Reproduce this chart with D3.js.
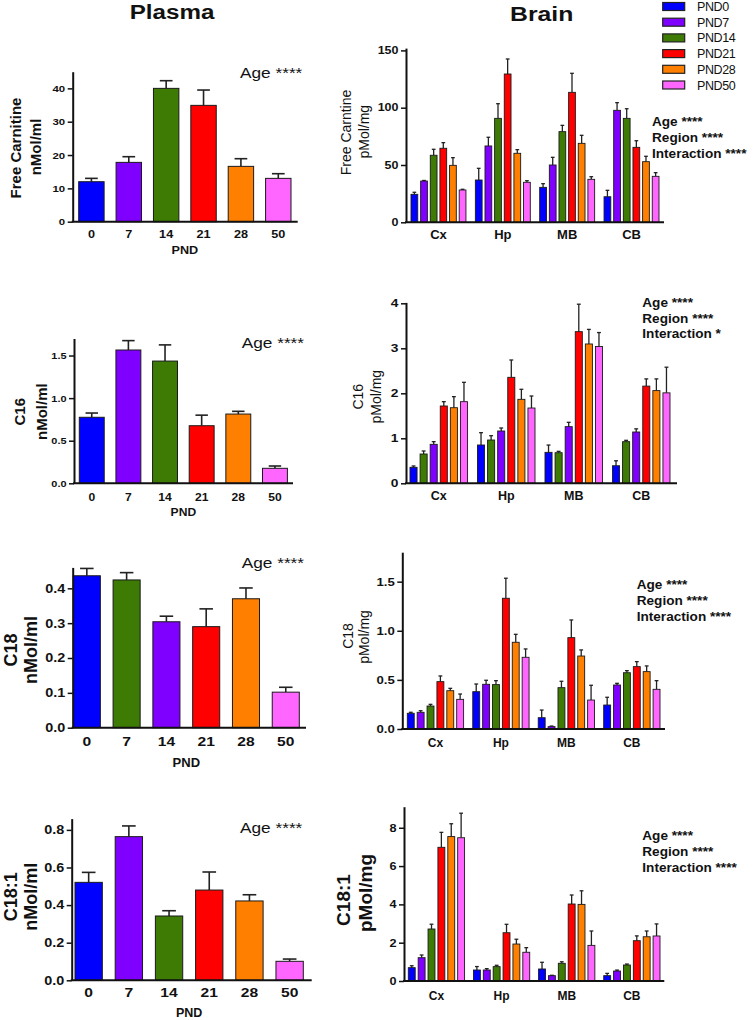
<!DOCTYPE html>
<html><head><meta charset="utf-8">
<script src="https://cdn.jsdelivr.net/npm/d3@7"></script>
<style>html,body{margin:0;padding:0;background:#fff;} svg{display:block;}</style>
</head><body>
<script>
// ---------------- DATA ----------------
const plasmaAges = ["0", "7", "14", "21", "28", "50"];
const regions = ["Cx", "Hp", "MB", "CB"];
const legendLabels = ["PND0", "PND7", "PND14", "PND21", "PND28", "PND50"];

// Plasma (nMol/ml), bar order as drawn
const plasmaFreeCarnitine = [12.0, 17.8, 40.0, 34.9, 16.6, 13.0];
const plasmaFreeCarnitineSem = [1.0, 1.7, 2.3, 4.6, 2.3, 1.4];
const plasmaC16 = [0.775, 1.565, 1.435, 0.676, 0.813, 0.176];
const plasmaC16Sem = [0.05, 0.11, 0.19, 0.124, 0.032, 0.027];
const plasmaC18 = [0.436, 0.424, 0.304, 0.29, 0.37, 0.102];
const plasmaC18Sem = [0.021, 0.021, 0.016, 0.051, 0.031, 0.014];
const plasmaC181 = [0.521, 0.764, 0.342, 0.48, 0.422, 0.101];
const plasmaC181Sem = [0.053, 0.057, 0.028, 0.096, 0.033, 0.012];

// Brain (pMol/mg), rows = regions, columns = bars as drawn
const brainFreeCarnitine = [
  [24.4, 36.0, 58.5, 64.6, 49.7, 28.2],
  [36.9, 66.6, 90.7, 129.4, 60.2, 34.9],
  [30.5, 50.0, 79.1, 113.4, 68.9, 37.5],
  [22.3, 97.7, 90.7, 65.4, 52.9, 40.1]];
const brainFreeCarnitineSem = [
  [1.8, 0.5, 5.2, 4.9, 6.7, 0.6],
  [10.2, 7.6, 12.8, 13.1, 3.2, 1.4],
  [3.2, 6.7, 5.5, 16.6, 7.0, 2.3],
  [5.6, 6.7, 8.4, 5.8, 4.7, 3.2]];
const brainC16 = [
  [0.355, 0.651, 0.866, 1.718, 1.68, 1.814],
  [0.851, 0.962, 1.162, 2.355, 1.866, 1.673],
  [0.688, 0.68, 1.259, 3.37, 3.096, 3.04],
  [0.39, 0.925, 1.14, 2.16, 2.06, 2.01]];
const brainC16Sem = [
  [0.03, 0.067, 0.059, 0.096, 0.245, 0.43],
  [0.274, 0.096, 0.067, 0.385, 0.223, 0.267],
  [0.162, 0.03, 0.096, 0.61, 0.324, 0.31],
  [0.11, 0.03, 0.07, 0.16, 0.26, 0.57]];
const brainC18 = [
  [0.16, 0.17, 0.234, 0.482, 0.39, 0.302],
  [0.38, 0.455, 0.452, 1.331, 0.883, 0.73],
  [0.115, 0.024, 0.421, 0.93, 0.743, 0.295],
  [0.244, 0.448, 0.573, 0.635, 0.584, 0.404]];
const brainC18Sem = [
  [0.01, 0.016, 0.017, 0.058, 0.024, 0.054],
  [0.078, 0.041, 0.04, 0.204, 0.081, 0.085],
  [0.078, 0.006, 0.065, 0.18, 0.062, 0.15],
  [0.079, 0.017, 0.021, 0.051, 0.058, 0.088]];
const brainC181 = [
  [0.696, 1.217, 2.715, 6.98, 7.54, 7.48],
  [0.574, 0.574, 0.75, 2.52, 1.93, 1.5],
  [0.627, 0.278, 0.924, 4.02, 4.0, 1.86],
  [0.278, 0.52, 0.835, 2.105, 2.31, 2.35]];
const brainC181Sem = [
  [0.1, 0.14, 0.25, 0.78, 0.67, 1.28],
  [0.18, 0.07, 0.07, 0.44, 0.25, 0.24],
  [0.35, 0.02, 0.08, 0.47, 0.71, 0.75],
  [0.12, 0.05, 0.05, 0.25, 0.3, 0.63]];

// ---------------- STYLE / LAYOUT ----------------
const palette = ["#0000ff", "#8000ff", "#3d7b05", "#ff0000", "#ff8000", "#ff66ff"];
const FONT = "'Liberation Sans', Arial, Helvetica, sans-serif";
const INK = "#111";

const plasmaPanels = [
  {vals: plasmaFreeCarnitine, sem: plasmaFreeCarnitineSem, colors: [0,1,2,3,4,5],
   ax: 72.7, xEnd: 297.7, y0: 221.7, max: 45, top: 71.7, ticks: [0,10,20,30,40], fmt: "d",
   bars: [78.7, 291], yt: {size: 9.5, sx: 1.2}, xt: {size: 11, sx: 1.15, base: 238.3},
   pnd: {y: 254, size: 11, sx: 1.15}, ylab: [["Free Carnitine", 20.5, 148], ["nMol/ml", 41, 147]], ylabSize: 15,
   age: [240, 77.5]},
  {vals: plasmaC16, sem: plasmaC16Sem, colors: [0,1,2,3,4,5],
   ax: 74, xEnd: 293, y0: 483.3, max: 1.7, top: 338.5, ticks: [0,0.5,1,1.5], fmt: ".1f",
   bars: [79.3, 287.4], yt: {size: 9.5, sx: 1.15}, xt: {size: 11, sx: 1.1, base: 500.7},
   pnd: {y: 516, size: 11, sx: 1.1}, ylab: [["C16", 25, 411.7], ["nMol/ml", 46.7, 411.7]], ylabSize: 15,
   age: [241.7, 348]},
  {vals: plasmaC18, sem: plasmaC18Sem, colors: [0,2,1,3,4,5],
   ax: 72.7, xEnd: 306, y0: 727.7, max: 0.46, top: 567.4, ticks: [0,0.1,0.2,0.3,0.4], fmt: ".1f",
   bars: [73.3, 299.3], yt: {size: 12, sx: 1.2}, xt: {size: 13, sx: 1.2, base: 746},
   pnd: {y: 766.5, size: 13, sx: 1.0}, ylab: [["C18", 17, 650], ["nMol/ml", 37, 650]], ylabSize: 18,
   age: [241.7, 568]},
  {vals: plasmaC181, sem: plasmaC181Sem, colors: [0,1,2,3,4,5],
   ax: 71.7, xEnd: 311.7, y0: 980.3, max: 0.86, top: 818.6, ticks: [0,0.2,0.4,0.6,0.8], fmt: ".1f",
   bars: [75, 303.3], yt: {size: 12, sx: 1.2}, xt: {size: 12.5, sx: 1.25, base: 997.3},
   pnd: {y: 1016.5, size: 12.5, sx: 1.0}, ylab: [["C18:1", 17, 896.7], ["nMol/ml", 37, 896.7]], ylabSize: 18,
   age: [240, 833]}
];

const brainPanels = [
  {vals: brainFreeCarnitine, sem: brainFreeCarnitineSem, colors: [0,1,2,3,4,5],
   ax: 406, xEnd: 664, y0: 222.3, max: 152, top: 48.1, ticks: [0,50,100,150], fmt: "d",
   groups: [411, 659], gpad: 0.146, yt: {size: 10, sx: 1.25}, xt: {size: 13, base: 239.5},
   ylab: [["Free Carntine", 350.7, 132.5], ["pMol/mg", 369, 131.7]], ylabSize: 14, ylabBold: false,
   ann: {x: 652, y: 126, lines: ["Age ****", "Region ****", "Interaction ****"]}},
  {vals: brainC16, sem: brainC16Sem, colors: [0,2,1,3,4,5],
   ax: 406, xEnd: 677, y0: 483.3, max: 4.02, top: 302.4, ticks: [0,1,2,3,4], fmt: "d",
   groups: [410, 670], gpad: 0.148, yt: {size: 11, sx: 1.25}, xt: {size: 12.5, base: 500},
   ylab: [["C16", 363.3, 396.7], ["pMol/mg", 381, 396.7]], ylabSize: 14, ylabBold: false,
   ann: {x: 642.3, y: 306.7, lines: ["Age ****", "Region ****", "Interaction *"]}},
  {vals: brainC18, sem: brainC18Sem, colors: [0,1,2,3,4,5],
   ax: 402.3, xEnd: 665, y0: 729, max: 1.8, top: 552.2, ticks: [0,0.5,1,1.5], fmt: ".1f",
   groups: [407.3, 660], gpad: 0.14, yt: {size: 11, sx: 1.2}, xt: {size: 12, base: 746.7},
   ylab: [["C18", 353.3, 636], ["pMol/mg", 369, 637]], ylabSize: 14, ylabBold: false,
   ann: {x: 636.7, y: 589.3, lines: ["Age ****", "Region ****", "Interaction ****"]}},
  {vals: brainC181, sem: brainC181Sem, colors: [0,1,2,3,4,5],
   ax: 404, xEnd: 664.3, y0: 981, max: 9.1, top: 806.7, ticks: [0,2,4,6,8], fmt: "d",
   groups: [408.3, 660], gpad: 0.136, yt: {size: 11, sx: 1.15}, xt: {size: 12, base: 1000},
   ylab: [["C18:1", 350, 900], ["pMol/mg", 372, 893]], ylabSize: 19, ylabBold: true,
   ann: {x: 642.3, y: 840, lines: ["Age ****", "Region ****", "Interaction ****"]}}
];

// ---------------- DRAW ----------------
const W = 753, H = 1020;
const svg = d3.select("body").append("svg").attr("width", W).attr("height", H)
  .attr("font-family", FONT);

function label(sel, x, y, str, o = {}) {
  const t = sel.append("text").text(str)
    .attr("transform", `translate(${x},${y})` + (o.rot ? ` rotate(${o.rot})` : "") + (o.sx ? ` scale(${o.sx},1)` : ""))
    .attr("font-size", o.size || 12)
    .attr("font-weight", o.bold ? "bold" : "normal")
    .attr("text-anchor", o.anchor || "start")
    .attr("fill", INK);
  if (o.ls != null) t.attr("letter-spacing", o.ls);
  return t;
}

// Titles
label(svg, 172, 18.5, "Plasma", {size: 20.5, bold: true, anchor: "middle", sx: 1.18});
label(svg, 541.7, 20.5, "Brain", {size: 21, bold: true, anchor: "middle", sx: 1.18});

function yAxis(g, p, y) {
  const ax = g.append("g").attr("transform", `translate(${p.ax},0)`)
    .call(d3.axisLeft(y).tickValues(p.ticks).tickFormat(d3.format(p.fmt))
      .tickSizeInner(5).tickSizeOuter(0).tickPadding(2.5));
  ax.select(".domain").attr("stroke", INK).attr("stroke-width", 2);
  ax.selectAll(".tick line").attr("stroke", INK).attr("stroke-width", 1.5);
  ax.selectAll(".tick text")
    .attr("font-family", FONT).attr("font-weight", "bold").attr("font-size", p.yt.size).attr("fill", INK)
    .attr("transform", `scale(${p.yt.sx},1)`)
    .attr("x", function () { return +this.getAttribute("x") / p.yt.sx; });
  return ax;
}

function xAxisLine(g, p) {
  g.append("line").attr("x1", p.ax - 1).attr("x2", p.xEnd).attr("y1", p.y0).attr("y2", p.y0)
    .attr("stroke", INK).attr("stroke-width", 2);
}

function errBar(g, cx, yv, ye, cap, sw) {
  g.append("line").attr("x1", cx).attr("x2", cx).attr("y1", yv).attr("y2", ye)
    .attr("stroke", "#222").attr("stroke-width", sw);
  g.append("line").attr("x1", cx - cap / 2).attr("x2", cx + cap / 2).attr("y1", ye).attr("y2", ye)
    .attr("stroke", "#222").attr("stroke-width", sw);
}

// Plasma panels
plasmaPanels.forEach(p => {
  const g = svg.append("g");
  const x = d3.scaleBand().domain(plasmaAges).range(p.bars).paddingInner(0.32).paddingOuter(0);
  const y = d3.scaleLinear().domain([0, p.max]).range([p.y0, p.top]);
  const bw = x.bandwidth();
  plasmaAges.forEach((a, i) => {
    const v = p.vals[i], s = p.sem[i];
    errBar(g, x(a) + bw / 2, y(v), y(v + s), bw * 0.5, 1.6);
  });
  g.selectAll("rect.bar").data(plasmaAges).join("rect").attr("class", "bar")
    .attr("x", d => x(d)).attr("width", bw)
    .attr("y", (d, i) => y(p.vals[i])).attr("height", (d, i) => p.y0 - y(p.vals[i]))
    .attr("fill", (d, i) => palette[p.colors[i]])
    .attr("stroke", "#1a1a1a").attr("stroke-width", 1);
  yAxis(g, p, y);
  xAxisLine(g, p);
  const xa = g.append("g").attr("transform", `translate(0,${p.y0})`)
    .call(d3.axisBottom(x).tickSize(0).tickPadding(p.xt.base - p.y0));
  xa.select(".domain").remove();
  xa.selectAll(".tick text").attr("dy", 0)
    .attr("font-family", FONT).attr("font-weight", "bold").attr("font-size", p.xt.size).attr("fill", INK)
    .attr("transform", `scale(${p.xt.sx},1)`);
  label(g, (p.bars[0] + p.bars[1]) / 2, p.pnd.y, "PND", {size: p.pnd.size, bold: true, anchor: "middle", sx: p.pnd.sx});
  p.ylab.forEach(([t, lx, ly]) => label(g, lx, ly, t, {size: p.ylabSize, bold: true, anchor: "middle", rot: -90}));
  label(g, p.age[0], p.age[1], "Age ****", {size: 15, sx: 1.15});
});

// Brain panels
brainPanels.forEach(p => {
  const g = svg.append("g");
  const x0 = d3.scaleBand().domain(regions).range(p.groups).paddingInner(p.gpad).paddingOuter(0);
  const x1 = d3.scaleBand().domain(d3.range(6)).range([0, x0.bandwidth()]).paddingInner(0.3).paddingOuter(0);
  const y = d3.scaleLinear().domain([0, p.max]).range([p.y0, p.top]);
  const bw = x1.bandwidth();
  regions.forEach((r, ri) => {
    const gg = g.append("g").attr("transform", `translate(${x0(r)},0)`);
    d3.range(6).forEach(i => {
      const v = p.vals[ri][i], s = p.sem[ri][i];
      errBar(gg, x1(i) + bw / 2, y(v), y(v + s), Math.max(3.5, bw * 0.55), 1.3);
    });
    gg.selectAll("rect").data(d3.range(6)).join("rect")
      .attr("x", i => x1(i)).attr("width", bw)
      .attr("y", i => y(p.vals[ri][i])).attr("height", i => p.y0 - y(p.vals[ri][i]))
      .attr("fill", i => palette[p.colors[i]])
      .attr("stroke", "#1a1a1a").attr("stroke-width", 0.9);
  });
  yAxis(g, p, y);
  xAxisLine(g, p);
  const xa = g.append("g").attr("transform", `translate(0,${p.y0})`)
    .call(d3.axisBottom(x0).tickSize(0).tickPadding(p.xt.base - p.y0));
  xa.select(".domain").remove();
  xa.selectAll(".tick text").attr("dy", 0)
    .attr("font-family", FONT).attr("font-weight", "bold").attr("font-size", p.xt.size).attr("fill", INK);
  p.ylab.forEach(([t, lx, ly]) => label(g, lx, ly, t, {size: p.ylabSize, bold: p.ylabBold, anchor: "middle", rot: -90}));
  p.ann.lines.forEach((t, i) => label(g, p.ann.x, p.ann.y + i * 15.8, t, {size: 13.6, bold: true}));
});

// Legend
const lg = svg.append("g");
const ly = d3.scalePoint().domain(legendLabels).range([6.5, 85]);
legendLabels.forEach((t, i) => {
  lg.append("rect").attr("x", 662.7).attr("y", ly(t) - 4).attr("width", 22).attr("height", 8)
    .attr("fill", palette[i]).attr("stroke", "#222").attr("stroke-width", 1.2);
  label(lg, 697, ly(t) + 4.5, t, {size: 12.5, ls: -0.4});
});
</script>
</body></html>
